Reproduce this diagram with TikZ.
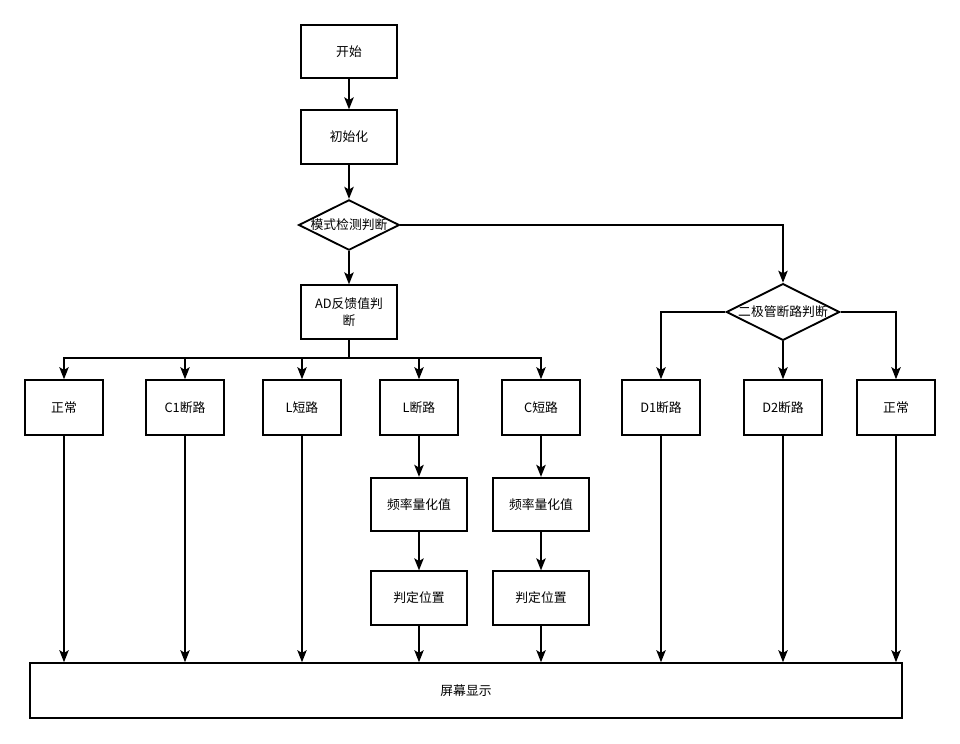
\documentclass[tikz,border=0pt]{standalone}
\usepackage{fontspec}
\setmainfont{Noto Sans CJK SC}
\usetikzlibrary{arrows.meta, shapes.geometric}

\begin{document}
\begin{tikzpicture}[x=0.75pt, y=-0.75pt, line width=1.4pt,
    >={Stealth[length=9pt,width=7pt,inset=2pt]},
    font=\fontsize{9.6}{13}\selectfont,
    block/.style={draw, rectangle, minimum width=72pt, minimum height=40pt, align=center},
    result/.style={draw, rectangle, minimum width=58.5pt, minimum height=41pt},
    decision/.style={draw, diamond, aspect=2, inner sep=0pt}]
  \useasboundingbox (0,0) rectangle (960,743);

  \node[block]    (start)  at (349,51.5)  {开始};
  \node[block]    (init)   at (349,137)   {初始化};
  \node[decision] (mode)   at (349,225)   {模式检测判断};
  \node[block]    (ad)     at (349,312)   {AD反馈值判\\断};
  \node[decision] (diode)  at (783,312)   {二极管断路判断};

  \node[result] (ok1)    at (64,407.5)  {正常};
  \node[result] (c1)     at (185,407.5) {C1断路};
  \node[result] (lshort) at (302,407.5) {L短路};
  \node[result] (lopen)  at (419,407.5) {L断路};
  \node[result] (cshort) at (541,407.5) {C短路};
  \node[result] (d1)     at (661,407.5) {D1断路};
  \node[result] (d2)     at (783,407.5) {D2断路};
  \node[result] (ok2)    at (896,407.5) {正常};

  \node[block] (freq1) at (419,504.5) {频率量化值};
  \node[block] (freq2) at (541,504.5) {频率量化值};
  \node[block] (pos1)  at (419,598)   {判定位置};
  \node[block] (pos2)  at (541,598)   {判定位置};

  \node[draw, rectangle, minimum width=654pt, minimum height=41pt] (screen) at (466,690.5) {屏幕显示};

  \coordinate (bus) at (349,358);

  \draw[->] (start) -- (init);
  \draw[->] (init) -- (mode);
  \draw[->] (mode) -- (ad);
  \draw (ad) -- (bus);
  \foreach \n in {ok1,c1,lshort,lopen,cshort}
    \draw[->] (bus) -| (\n);

  \draw[->] (mode) -| (diode);
  \draw[->] (diode) -| (d1);
  \draw[->] (diode) -- (d2);
  \draw[->] (diode) -| (ok2);

  \draw[->] (lopen) -- (freq1);
  \draw[->] (freq1) -- (pos1);
  \draw[->] (cshort) -- (freq2);
  \draw[->] (freq2) -- (pos2);

  \foreach \n in {ok1,c1,lshort,pos1,pos2,d1,d2,ok2}
    \draw[->] (\n) -- (\n |- screen.north);
\end{tikzpicture}
\end{document}
